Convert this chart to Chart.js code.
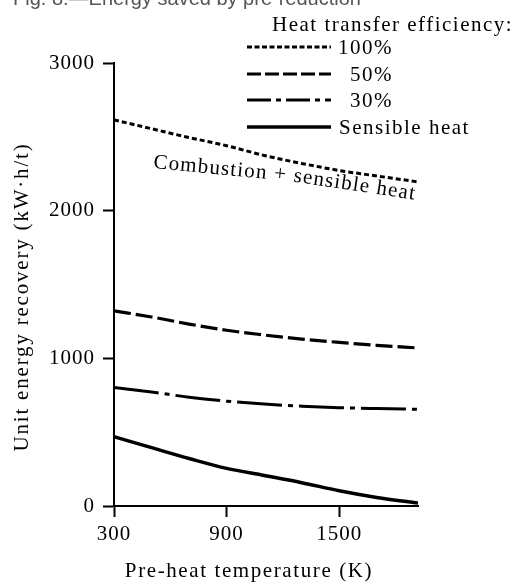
<!DOCTYPE html>
<html>
<head>
<meta charset="utf-8">
<script src="https://cdn.jsdelivr.net/npm/chart.js@4"></script>
<style>
  html, body { margin: 0; padding: 0; background: #fff; }
</style>
</head>
<body>
<canvas id="chart" width="516" height="586"></canvas>
<script>
// values
const temps = [300, 500, 700, 900, 1100, 1300, 1500, 1700, 1920];
const eff100 = [2615, 2555, 2495, 2440, 2374, 2320, 2272, 2235, 2195];
const eff50 = [1322, 1280, 1232, 1190, 1158, 1130, 1108, 1088, 1070];
const eff30 = [803, 772, 737, 710, 690, 676, 666, 660, 655];
const sensible = [469, 395, 322, 255, 207, 158, 103, 58, 20];
const seriesLabels = ['100%', '50%', '30%', 'Sensible heat'];
const xTicks = [300, 900, 1500];
const yTicks = [0, 1000, 2000, 3000];

const serif = '"Liberation Serif", "Times New Roman", serif';
const ink = '#000';

function points(values) {
  return temps.map((t, i) => ({ x: t, y: values[i] }));
}

// dash patterns used for the small legend samples (shorter than on the curves)
const legendDash = [[5, 2.5], [14, 4], [24, 5, 5, 5], []];
const legendRowY = [47, 74, 100, 127];
const legendTextX = [393, 393, 393, 339];

const extraText = {
  id: 'extraText',
  beforeDraw(chart) {
    chart.ctx.letterSpacing = '1px';
  },
  afterDraw(chart) {
    const ctx = chart.ctx;
    ctx.save();

    // caption, cut off at the top of the scan
    ctx.letterSpacing = '0px';
    ctx.font = '20px "Liberation Sans", Arial, sans-serif';
    ctx.fillStyle = '#555';
    ctx.textBaseline = 'alphabetic';
    ctx.textAlign = 'left';
    ctx.fillText('Fig. 8.\u2014Energy saved by pre-reduction', 13, 5);

    ctx.fillStyle = ink;
    ctx.font = '21px ' + serif;
    ctx.letterSpacing = '1.5px';
    ctx.fillText('Heat transfer efficiency:', 272, 31);

    // legend rows
    chart.data.datasets.forEach((ds, i) => {
      const y = legendRowY[i];
      ctx.save();
      ctx.strokeStyle = ink;
      ctx.lineWidth = ds.borderWidth;
      ctx.setLineDash(legendDash[i]);
      ctx.beginPath();
      ctx.moveTo(247, y);
      ctx.lineTo(331, y);
      ctx.stroke();
      ctx.restore();
      ctx.textAlign = i < 3 ? 'right' : 'left';
      ctx.fillText(ds.label, legendTextX[i], y + 7);
    });

    // label lying along the top curve
    ctx.textAlign = 'left';
    ctx.letterSpacing = '1.2px';
    let x = 153, y = 168;
    [['Combustion + ', 5.5], ['sensible heat', 8.5]].forEach(([text, deg]) => {
      const a = deg * Math.PI / 180;
      ctx.save();
      ctx.translate(x, y);
      ctx.rotate(a);
      ctx.fillText(text, 0, 0);
      ctx.restore();
      const w = ctx.measureText(text).width;
      x += w * Math.cos(a);
      y += w * Math.sin(a);
    });

    // axis titles
    ctx.letterSpacing = '1.6px';
    ctx.textAlign = 'center';
    ctx.textBaseline = 'middle';
    ctx.fillText('Pre-heat temperature (K)', 249, 571);
    ctx.save();
    ctx.translate(22, 297);
    ctx.rotate(-Math.PI / 2);
    ctx.letterSpacing = '1.8px';
    ctx.fillText('Unit energy recovery (kW\u00b7h/t)', 0, 0);
    ctx.restore();

    ctx.restore();
  }
};

const ctx = document.getElementById('chart').getContext('2d');
new Chart(ctx, {
  type: 'line',
  data: {
    datasets: [
      { label: seriesLabels[0], data: points(eff100), borderDash: [5, 3], borderWidth: 3 },
      { label: seriesLabels[1], data: points(eff50), borderDash: [17, 5], borderWidth: 3.2 },
      { label: seriesLabels[2], data: points(eff30), borderDash: [45, 6, 5, 6], borderWidth: 3 },
      { label: seriesLabels[3], data: points(sensible), borderWidth: 3.5 },
    ].map((ds) => Object.assign(ds, {
      borderColor: ink,
      pointRadius: 0,
      fill: false,
      tension: 0.4,
      cubicInterpolationMode: 'monotone',
      borderCapStyle: 'butt',
    })),
  },
  options: {
    responsive: false,
    animation: false,
    layout: { padding: { top: 63, right: 98, bottom: 0, left: 0 } },
    plugins: {
      legend: { display: false },
      tooltip: { enabled: false },
    },
    scales: {
      x: {
        type: 'linear',
        min: 300,
        max: 1920,
        afterBuildTicks: (scale) => { scale.ticks = xTicks.map((v) => ({ value: v })); },
        afterFit: (scale) => { scale.height = 80; },
        ticks: {
          color: ink,
          font: { family: serif, size: 21 },
          padding: 5,
          maxRotation: 0,
          callback: (v) => String(v),
        },
        grid: { drawOnChartArea: false, tickLength: 11, tickWidth: 2, color: ink },
        border: { color: ink, width: 2 },
      },
      y: {
        min: 0,
        max: 3000,
        afterBuildTicks: (scale) => { scale.ticks = yTicks.map((v) => ({ value: v })); },
        afterFit: (scale) => { scale.width = 114; },
        ticks: {
          color: ink,
          font: { family: serif, size: 21 },
          padding: 8,
          callback: (v) => String(v),
        },
        grid: { drawOnChartArea: false, tickLength: 11, tickWidth: 2, color: ink },
        border: { color: ink, width: 2 },
      },
    },
  },
  plugins: [extraText],
});
</script>
</body>
</html>
